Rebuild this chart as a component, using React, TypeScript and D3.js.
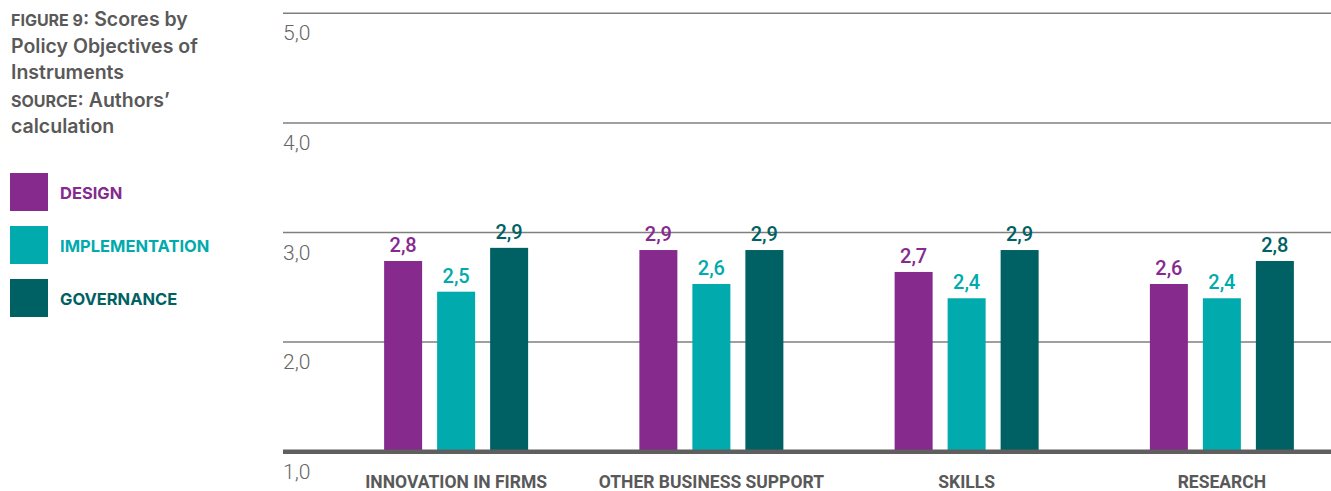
import React from 'react';
import * as d3 from 'd3';

const categories = ['INNOVATION IN FIRMS', 'OTHER BUSINESS SUPPORT', 'SKILLS', 'RESEARCH'];
const seriesNames = ['DESIGN', 'IMPLEMENTATION', 'GOVERNANCE'];
// bar heights
const design = [2.74, 2.84, 2.64, 2.53];
const implementation = [2.46, 2.53, 2.40, 2.40];
const governance = [2.86, 2.84, 2.84, 2.74];
// labels printed above the bars
const designLabels = ['2,8', '2,9', '2,7', '2,6'];
const implementationLabels = ['2,5', '2,6', '2,4', '2,4'];
const governanceLabels = ['2,9', '2,9', '2,9', '2,8'];
const yTicks = [1, 2, 3, 4, 5];

const colors = ['#862a8e', '#00aaad', '#006164'];
const width = 1331;
const height = 491;

export default function App() {
  const series = [design, implementation, governance];
  const labels = [designLabels, implementationLabels, governanceLabels];

  const y = d3.scaleLinear().domain([1, 5]).range([451.7, 13.3]);
  const x0 = d3.scaleBand<string>().domain(categories).range([328.5, 1349.5]);
  const x1 = d3.scaleBand<string>().domain(seriesNames).range([0, 144]).paddingInner(0.283);
  const fmt = d3.format('.1f');

  return (
    <svg width={width} height={height} style={{ position: 'absolute', left: 0, top: 0 }}>
      <rect width={width} height={height} fill="#fff" />

      {/* title block */}
      <g fontFamily="Inter, sans-serif" fill="#595959" fontWeight={600} fontSize={19.5}>
        <text x={11} y={26}>
          <tspan fontSize={16} fontWeight={700}>FIGURE 9</tspan>: Scores by
        </text>
        <text x={11} y={52.7}>Policy Objectives of</text>
        <text x={11} y={79.3}>Instruments</text>
        <text x={11} y={106.5}>
          <tspan fontSize={16} fontWeight={700}>SOURCE</tspan>: Authors’
        </text>
        <text x={11} y={132.7}>calculation</text>
      </g>

      {/* legend */}
      {seriesNames.map((s, i) => (
        <g key={s} transform={`translate(10, ${173 + i * 53})`}>
          <rect width={38} height={38} fill={colors[i]} />
          <text x={50} y={26} fill={colors[i]} fontFamily="Inter, sans-serif" fontWeight={700} fontSize={16.5}>
            {s}
          </text>
        </g>
      ))}

      {/* grid */}
      {yTicks.map((t) => (
        <g key={t}>
          {t > 1 && (
            <line x1={283} x2={width} y1={y(t)} y2={y(t)} stroke="#7f7f7f" strokeWidth={1.5} />
          )}
          <text x={283} y={y(t) + 27} fill="#666" fontFamily="Roboto, sans-serif" fontWeight={300} fontSize={21}>
            {fmt(t).replace('.', ',')}
          </text>
        </g>
      ))}

      {/* bars */}
      {categories.map((c, ci) => (
        <g key={c} transform={`translate(${(x0(c) ?? 0) + x0.bandwidth() / 2 - 72}, 0)`}>
          {seriesNames.map((s, si) => {
            const v = series[si][ci];
            const bx = x1(s) ?? 0;
            return (
              <g key={s}>
                <rect x={bx} y={y(v)} width={x1.bandwidth()} height={y(1) - y(v)} fill={colors[si]} />
                <text
                  x={bx + x1.bandwidth() / 2}
                  y={y(v) - 9}
                  textAnchor="middle"
                  fill={colors[si]}
                  fontFamily="Roboto, sans-serif"
                  fontWeight={500}
                  fontSize={20}
                >
                  {labels[si][ci]}
                </text>
              </g>
            );
          })}
          <text
            x={72}
            y={488}
            textAnchor="middle"
            fill="#595959"
            fontFamily="Roboto, sans-serif"
            fontWeight={700}
            fontSize={17.5}
          >
            {c}
          </text>
        </g>
      ))}

      {/* baseline */}
      <line x1={283} x2={width} y1={y(1)} y2={y(1)} stroke="#5f5f5f" strokeWidth={4.5} />
    </svg>
  );
}
